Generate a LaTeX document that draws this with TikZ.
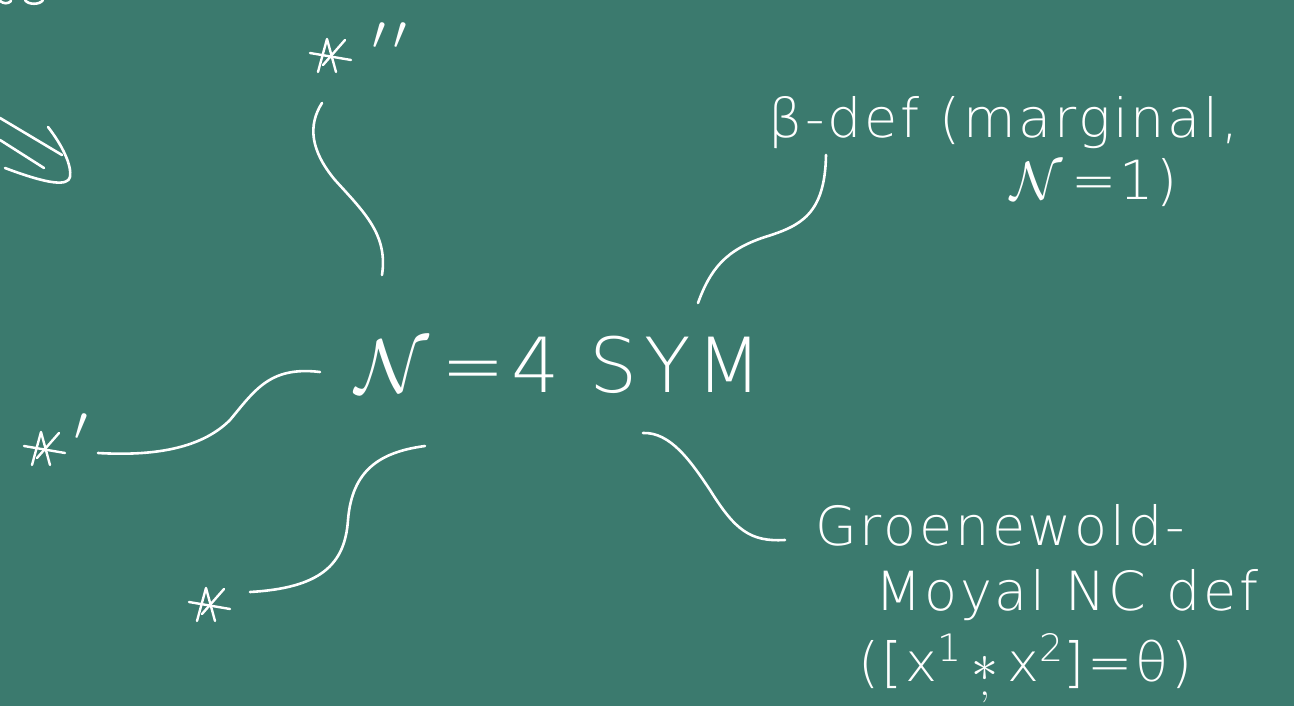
\RequirePackage{fix-cm}
\documentclass[tikz,border=0pt]{standalone}
\usepackage{amsmath}
\usepackage{fontspec}
\setmainfont{DejaVu Sans}[UprightFont=* ExtraLight]
\definecolor{board}{RGB}{59,122,110}
\begin{document}
\begin{tikzpicture}[x=1pt,y=-1pt,
  chalk/.style={draw=white,line width=2.6pt,line cap=round,line join=round},
  lbl/.style={text=white,inner sep=0pt,anchor=base west},
  big/.style={font=\fontsize{76}{80}\selectfont\addfontfeature{LetterSpace=8}},
  mid/.style={font=\fontsize{54}{60}\selectfont\addfontfeature{LetterSpace=5}},
  primefont/.style={font=\fontsize{48}{48}\selectfont},
  pics/hstar/.style={code={
    \draw[chalk,line width=2.4pt] (-10,15)--(-1,-18)--(8,15);
    \draw[chalk,line width=2.4pt] (-18,-4)--(23,3);
    \draw[chalk,line width=2.4pt] (-5,8)--(17,-17);}}]
\fill[board] (0,0) rectangle (1294,706);
\useasboundingbox (0,0) rectangle (1294,706);

% partial drawing at top-left edge
\draw[chalk] (0,1) .. controls (4,4) and (8,4) .. (11,1);
\draw[chalk] (25,0) .. controls (28,5) and (40,5) .. (43,0);
\draw[chalk] (0,118) -- (62,155);
\draw[chalk] (0,140) -- (44,168);
\draw[chalk] (48,127) .. controls (62,145) and (72,165) .. (70,177) .. controls (68,186) and (50,185) .. (5,168);

% central node
\node[lbl,big] (sym) at (355,392) {$\mathcal{N}$\,=4 SYM};

% stars
\pic (s2) at (328,57) {hstar};
\node[lbl,primefont] (p2) at (372,50) {$\prime\,\prime$};
\pic (s1) at (42,450) {hstar};
\node[lbl,primefont] (p1) at (74,440) {$\prime$};
\pic (s0) at (207,606) {hstar};

% labels
\node[lbl,mid] (beta) at (768,138) {β-def (marginal,};
\node[lbl,mid] (betab) at (1010,200) {$\mathcal{N}$\,=1)};
\node[lbl,mid] (gr1) at (815,545) {Groenewold-};
\node[lbl,mid] (gr2) at (875,610) {Moyal NC def};
\node[lbl,mid] (gr3) at (858,681) {([x\textsuperscript{1}\,\ensuremath{\underset{,}{\ast}}\,x\textsuperscript{2}]=θ)};

% connectors (free ends as named coordinates)
\coordinate (a1) at (382,275); \coordinate (a2) at (322,103);
\draw[chalk] (a2) .. controls (308,125) and (310,150) .. (335,180) .. controls (365,213) and (388,235) .. (a1);
\coordinate (b1) at (698,303); \coordinate (b2) at (826,155);
\draw[chalk] (b1) .. controls (710,270) and (725,250) .. (765,237) .. controls (800,226) and (825,215) .. (b2);
\coordinate (c1) at (98,453); \coordinate (c2) at (320,372);
\draw[chalk] (c1) .. controls (150,456) and (200,450) .. (230,420) .. controls (255,390) and (270,366) .. (c2);
\coordinate (d1) at (250,592); \coordinate (d2) at (425,446);
\draw[chalk] (d1) .. controls (320,588) and (345,565) .. (348,520) .. controls (352,470) and (380,452) .. (d2);
\coordinate (e1) at (643,433); \coordinate (e2) at (785,540);
\draw[chalk] (e1) .. controls (670,432) and (690,460) .. (710,490) .. controls (735,530) and (750,542) .. (e2);
\end{tikzpicture}
\end{document}
